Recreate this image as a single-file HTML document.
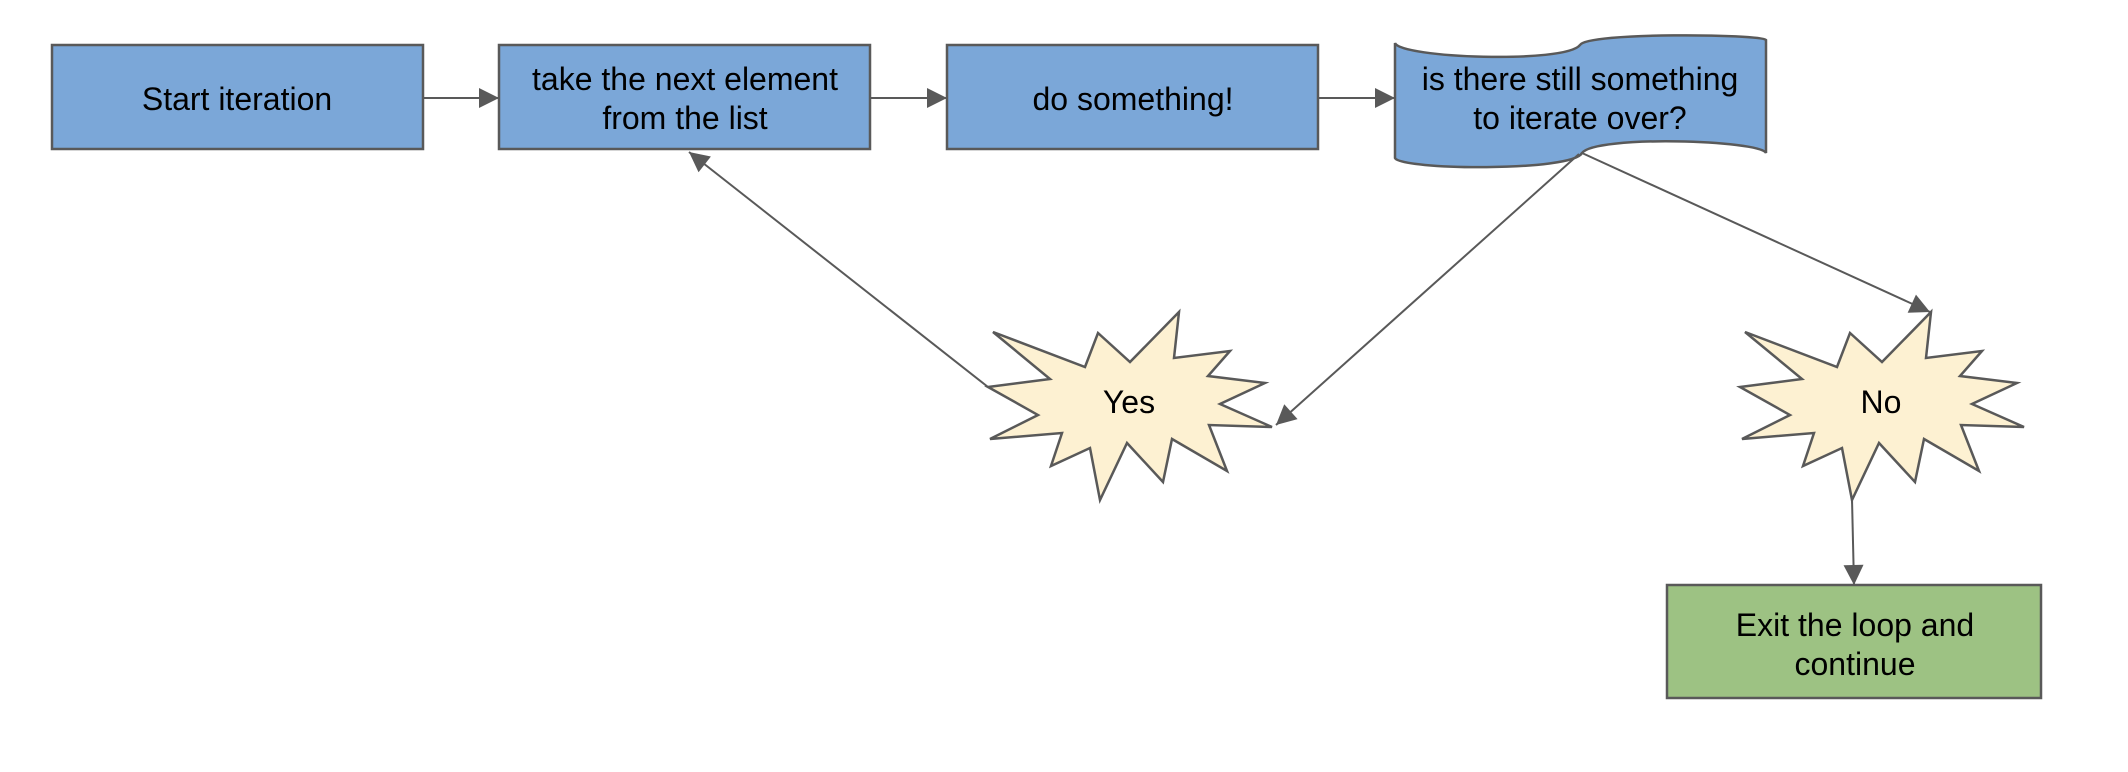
<!DOCTYPE html>
<html><head><meta charset="utf-8"><style>
html,body{margin:0;padding:0;background:#fff;}
svg{display:block;}
text{font-family:"Liberation Sans",Arial,sans-serif;font-size:32px;fill:#000;text-anchor:middle;}
</style></head><body>
<svg width="2128" height="772" viewBox="0 0 2128 772" xmlns="http://www.w3.org/2000/svg">
<defs>
<marker id="a" viewBox="0 0 10 10" refX="10" refY="5" markerWidth="24" markerHeight="20" markerUnits="userSpaceOnUse" orient="auto">
<path d="M0,0 L10,5 L0,10 Z" fill="#595959"/>
</marker>
</defs>
<g stroke="#595959" stroke-width="2.5">
<rect x="52" y="45" width="371" height="104" fill="#7ba7d8"/>
<rect x="499" y="45" width="371" height="104" fill="#7ba7d8"/>
<rect x="947" y="45" width="371" height="104" fill="#7ba7d8"/>
<path d="M1395,43 C1400,58 1565,64 1580,45 C1588,32 1760,34 1766,40 L1766,153 C1760,140 1595,135 1582,153 C1572,172 1400,170 1395,158 Z" fill="#7ba7d8"/>
<rect x="1667" y="585" width="374" height="113" fill="#9dc283"/>
<polygon fill="#fdf1d2" points="993,332 1085,367 1098,333 1130,362 1179,312 1174,358 1230,351 1208,376 1265,383 1220,404 1272,427 1209,425 1227,471 1172,439 1163,482 1127,443 1100,500 1090,448 1051,466 1062,433 990,439 1038,415 988,387 1050,379"/>
<polygon transform="translate(752,0)" fill="#fdf1d2" points="993,332 1085,367 1098,333 1130,362 1179,312 1174,358 1230,351 1208,376 1265,383 1220,404 1272,427 1209,425 1227,471 1172,439 1163,482 1127,443 1100,500 1090,448 1051,466 1062,433 990,439 1038,415 988,387 1050,379"/>
</g>
<g stroke="#595959" stroke-width="2" fill="none">
<line x1="423" y1="98" x2="499" y2="98" marker-end="url(#a)"/>
<line x1="870" y1="98" x2="947" y2="98" marker-end="url(#a)"/>
<line x1="1318" y1="98" x2="1395" y2="98" marker-end="url(#a)"/>
<line x1="988" y1="387" x2="689" y2="152" marker-end="url(#a)"/>
<line x1="1579" y1="154" x2="1276" y2="425" marker-end="url(#a)"/>
<line x1="1582" y1="153" x2="1930" y2="312" marker-end="url(#a)"/>
<line x1="1852" y1="499" x2="1854" y2="585" marker-end="url(#a)"/>
</g>
<text x="237" y="110">Start iteration</text>
<text x="685" y="90">take the next element</text>
<text x="685" y="129">from the list</text>
<text x="1133" y="110">do something!</text>
<text x="1580" y="90">is there still something</text>
<text x="1580" y="129">to iterate over?</text>
<text x="1129" y="413">Yes</text>
<text x="1881" y="413">No</text>
<text x="1855" y="636">Exit the loop and</text>
<text x="1855" y="675">continue</text>
</svg>
</body></html>
